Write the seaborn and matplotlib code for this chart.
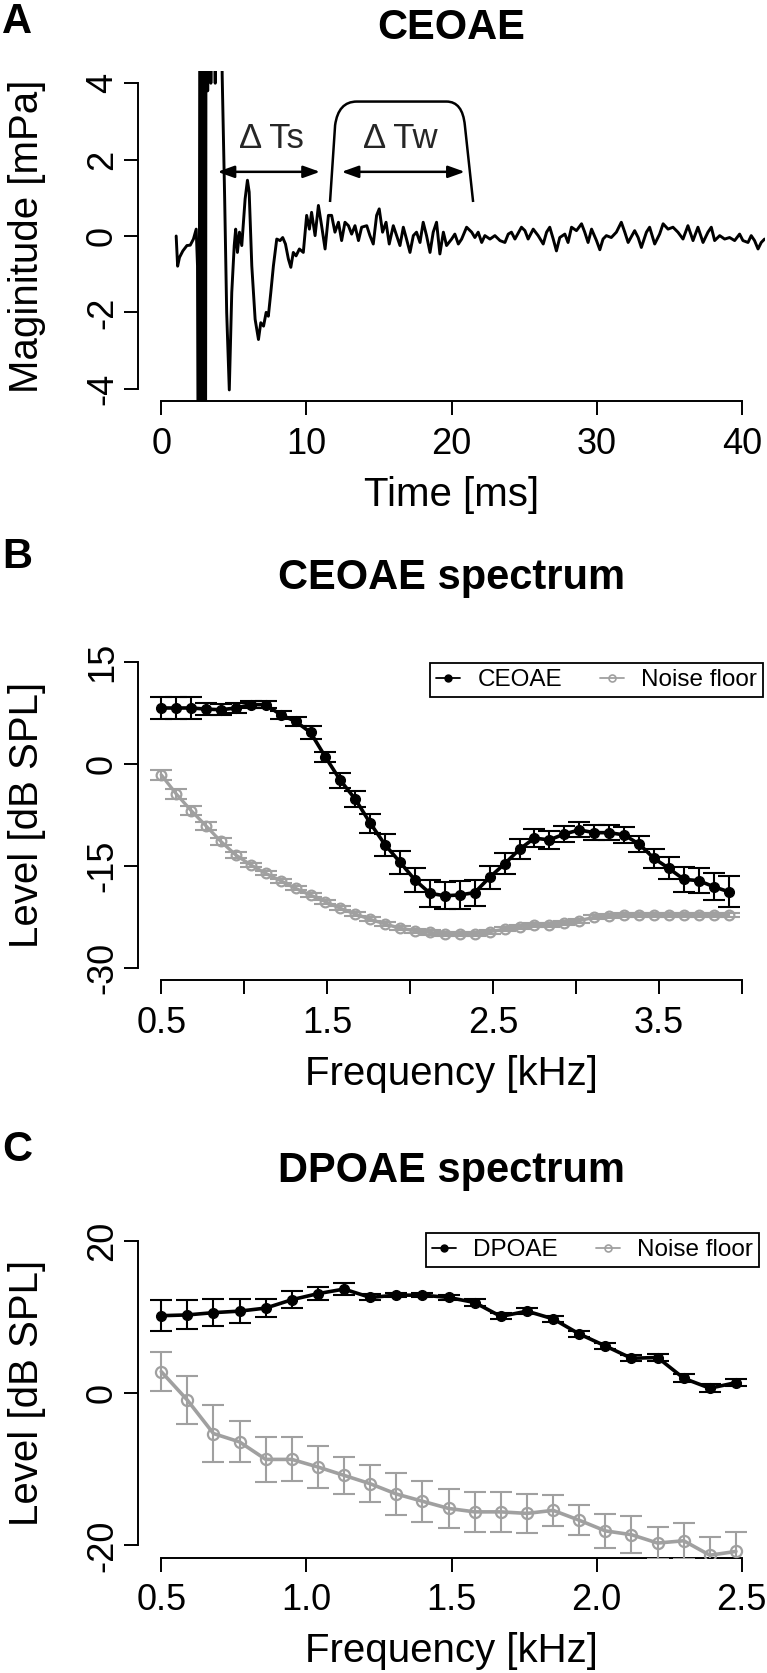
import numpy as np
import pandas as pd
import matplotlib
matplotlib.use("Agg")
import matplotlib.pyplot as plt
import seaborn as sns
from matplotlib.lines import Line2D
from matplotlib.path import Path
from matplotlib.patches import PathPatch

# ---------------- data ----------------
# Panel A: CEOAE time waveform (ms, mPa); values beyond +-4 are clipped by the axes
wave_time = [1.03, 1.13, 1.26, 1.49, 1.77, 2.00, 2.22, 2.41, 2.50, 2.59,
             2.68, 2.75, 2.82, 2.90, 2.97, 3.04, 3.10, 3.20, 3.30, 3.42, 3.55, 3.72, 3.85,
             4.10, 4.20, 4.37, 4.51, 4.69,
             4.86, 5.03, 5.13, 5.25, 5.39, 5.55, 5.78, 5.94, 6.06, 6.24, 6.47, 6.70, 6.86,
             7.05, 7.23, 7.38, 7.55, 7.73, 7.96, 8.19, 8.37, 8.56, 8.76, 8.93, 9.10, 9.29,
             9.52, 9.79, 10.02, 10.21, 10.36, 10.60, 10.83, 11.05, 11.29, 11.52, 11.74,
             11.97, 12.21, 12.43, 12.66, 12.90, 13.12, 13.35, 13.59, 13.81, 14.16, 14.38,
             14.61, 14.84, 15.02, 15.25, 15.49, 15.71, 15.99, 16.22, 16.45, 16.68, 16.90,
             17.14, 17.37, 17.59, 17.83, 18.05, 18.28, 18.52, 18.74, 18.97,
             19.20, 19.44, 19.66, 20.01, 20.23, 20.47, 20.70, 21.04, 21.39, 21.61, 21.84,
             22.08, 22.30, 22.65, 22.99, 23.34, 23.68, 23.91, 24.13, 24.37, 24.82, 25.06,
             25.28, 25.63, 25.97, 26.32, 26.55, 26.77, 27.01, 27.23, 27.46, 27.81, 28.03,
             28.27, 28.61, 28.96, 29.18, 29.41, 29.65, 29.99, 30.22, 30.44, 30.67, 31.01,
             31.36, 31.70, 31.94, 32.17, 32.62, 32.86, 33.08, 33.43, 33.65, 34.00, 34.34,
             34.58, 34.92, 35.26, 35.60, 35.95, 36.29, 36.64, 36.98, 37.33, 37.67, 37.90,
             38.13, 38.48, 38.82, 39.16, 39.51, 39.85, 40.08, 40.43, 40.65, 40.88, 41.12,
             41.34, 41.57]
wave_mpa = [0.00, -0.79, -0.56, -0.39, -0.25, -0.24, -0.08, 0.18, -0.78, -12.0,
            12.0, -12.0, 12.0, -12.0, 12.0, -12.0, 12.0, 3.8, 8.0, 4.0, 8.0, 4.0, 8.0,
            8.0, 4.2, 1.0, -2.0, -4.03,
            -1.48, -0.25, 0.18, -0.43, 0.10, -0.25, 0.97, 1.46, 1.15, -0.78, -2.18, -2.71, -2.27,
            -2.36, -2.00, -2.10, -1.48, -0.78, -0.08, -0.12, -0.04, -0.21, -0.60, -0.82, -0.43, -0.52,
            -0.34, -0.43, 0.54, 0.18, 0.62, 0.01, 0.80, 0.27, -0.34, 0.54, 0.54,
            0.10, 0.36, -0.12, 0.36, 0.27, 0.05, 0.27, -0.12, 0.23, 0.27, 0.01,
            -0.21, 0.54, 0.71, 0.10, 0.36, -0.21, 0.27, 0.01, -0.25, 0.23, -0.08,
            -0.43, 0.01, 0.10, -0.17, 0.36, 0.01, -0.43, 0.10, 0.36,
            -0.47, 0.10, -0.25, -0.08, 0.05, -0.21, -0.08, 0.23, 0.10, -0.04, 0.10,
            -0.17, 0.01, -0.08, 0.01, -0.12, -0.17, 0.05, 0.10, -0.08, 0.23, 0.14,
            -0.08, 0.18, 0.01, -0.21, 0.10, 0.23, -0.08, -0.39, -0.04, 0.05, -0.17,
            0.23, 0.14, 0.32, 0.10, -0.17, 0.18, -0.12, -0.36, -0.08, 0.01, -0.04,
            0.10, 0.36, 0.10, -0.17, 0.14, -0.04, -0.30, 0.10, 0.23, -0.21, 0.05,
            0.32, 0.18, 0.23, 0.10, -0.08, 0.27, -0.12, 0.23, -0.17, 0.10, 0.23,
            -0.12, 0.01, -0.08, -0.04, -0.12, 0.05, -0.12, -0.17, 0.01, -0.12, -0.34,
            -0.17, -0.08]

# Panel B: CEOAE spectrum (kHz, dB SPL)
ceoae_freq = [0.50, 0.59, 0.68, 0.77, 0.86, 0.95, 1.04, 1.13, 1.22, 1.31, 1.40, 1.49, 1.58,
              1.67, 1.76, 1.85, 1.94, 2.03, 2.12, 2.21, 2.30, 2.39, 2.48, 2.57, 2.66, 2.75,
              2.84, 2.93, 3.02, 3.11, 3.20, 3.29, 3.38, 3.47, 3.56, 3.65, 3.74, 3.83, 3.92]
ceoae_level = [8.26, 8.26, 8.26, 8.1, 8.0, 8.26, 8.75, 8.75, 7.27, 6.29, 4.66, 1.03, -2.4,
               -5.17, -8.7, -11.9, -14.46, -17.07, -19.03, -19.4, -19.27, -18.93, -16.67,
               -14.7, -12.55, -10.9, -11.17, -10.3, -9.7, -10.1, -10.1, -10.43, -11.76,
               -13.87, -15.35, -16.97, -17.17, -18.05, -18.8]
ceoae_err = [1.6, 1.6, 1.6, 0.9, 0.8, 0.7, 0.5, 0.5, 0.6, 0.7, 0.9, 0.74, 1.05, 1.15, 1.4,
             1.67, 1.67, 1.8, 2.0, 2.0, 2.0, 1.9, 1.67, 1.55, 1.5, 1.35, 1.3, 1.2, 1.1, 1.15,
             1.1, 1.15, 1.2, 1.4, 1.6, 1.8, 1.8, 2.0, 2.3]
ceoae_noise = [-1.58, -4.38, -6.84, -9.1, -11.4, -13.4, -14.85, -16.1, -17.17, -18.3, -19.3,
               -20.26, -21.25, -22.08, -22.87, -23.55, -24.19, -24.53, -24.8, -25.0, -25.0,
               -25.0, -24.68, -24.33, -23.94, -23.7, -23.7, -23.45, -23.06, -22.57, -22.37,
               -22.27, -22.2, -22.27, -22.2, -22.27, -22.27, -22.27, -22.27]
ceoae_noise_err = [0.74, 0.7, 0.7, 0.6, 0.5, 0.4, 0.3, 0.3, 0.3, 0.3, 0.3, 0.3, 0.3, 0.3,
                   0.3, 0.3, 0.3, 0.3, 0.3, 0.3, 0.3, 0.3, 0.3, 0.3, 0.3, 0.3, 0.3, 0.3,
                   0.3, 0.3, 0.3, 0.3, 0.3, 0.3, 0.3, 0.3, 0.3, 0.3, 0.3]

# Panel C: DPOAE spectrum (kHz, dB SPL)
dpoae_freq = [0.50, 0.59, 0.68, 0.77, 0.86, 0.95, 1.04, 1.13, 1.22, 1.31, 1.40, 1.49,
              1.58, 1.67, 1.76, 1.85, 1.94, 2.03, 2.12, 2.21, 2.30, 2.39, 2.48]
dpoae_level = [10.2, 10.3, 10.6, 10.8, 11.2, 12.3, 13.1, 13.7, 12.6, 12.9, 12.9, 12.6,
               11.93, 10.1, 10.8, 9.78, 7.8, 6.22, 4.6, 4.7, 1.97, 0.66, 1.4]
dpoae_err = [2.0, 1.9, 1.8, 1.6, 1.2, 1.1, 0.9, 0.8, 0.4, 0.3, 0.3, 0.3, 0.4, 0.4, 0.4,
             0.4, 0.4, 0.4, 0.4, 0.4, 0.5, 0.5, 0.5]
dpoae_noise = [2.85, -0.9, -5.3, -6.4, -8.7, -8.7, -9.7, -10.8, -11.9, -13.25, -14.2,
               -15.15, -15.6, -15.6, -15.8, -15.4, -16.7, -18.1, -18.6, -19.7, -19.4,
               -21.3, -20.8]
dpoae_noise_err = [2.6, 3.2, 3.7, 2.7, 3.0, 2.9, 2.7, 2.4, 2.4, 2.7, 2.7, 2.6, 2.6, 2.6,
                   2.6, 2.0, 2.0, 2.2, 2.4, 2.1, 2.4, 2.4, 2.5]

# ---------------- style ----------------
sns.set_theme(style="ticks")
plt.rcParams["font.family"] = ["Liberation Sans", "DejaVu Sans"]
plt.rcParams["axes.unicode_minus"] = False

W, H = 767, 1673
fig = plt.figure(figsize=(W / 100, H / 100), dpi=100)
fig.patch.set_facecolor("white")

GRAY = "#a0a0a0"
TICK_FS = 26
LABEL_FS = 29
TITLE_FS = 30
LETTER_FS = 30


def make_axes(top, bottom):
    return fig.add_axes([138 / W, 1 - bottom / H, 627 / W, (bottom - top) / H])


def style(ax, xb, yb, xticks, xlabels, yticks, ylabels, xlabel, ylabel):
    sns.despine(ax=ax)
    ax.grid(False)
    ax.set_facecolor("white")
    ax.spines["left"].set_bounds(*yb)
    ax.spines["bottom"].set_bounds(*xb)
    for s in ("left", "bottom"):
        ax.spines[s].set_linewidth(1.4)
        ax.spines[s].set_color("black")
    ax.set_xticks(xticks)
    ax.set_xticklabels(xlabels)
    ax.set_yticks(yticks)
    ax.set_yticklabels(ylabels, rotation=90, va="center")
    ax.tick_params(length=10, width=1.4, labelsize=TICK_FS,
                   colors="black", direction="out")
    ax.tick_params(axis="x", pad=8.5)
    ax.tick_params(axis="y", pad=3.0)
    ax.set_xlabel(xlabel, fontsize=LABEL_FS, color="black")
    ax.set_ylabel(ylabel, fontsize=LABEL_FS, color="black")
    h = ax.get_position().height * H
    ax.xaxis.set_label_coords(0.5, -75 / h)
    ax.yaxis.set_label_coords((46 - 138) / 627, 0.5)


# ---------------- Panel A ----------------
axA = make_axes(71, 401)
dfA = pd.DataFrame({"t": wave_time, "v": wave_mpa})
sns.lineplot(data=dfA, x="t", y="v", ax=axA, color="black", lw=2.1,
             sort=False, estimator=None)
axA.set_xlim(-1.6, 41.6)
axA.set_ylim(-4.32, 4.32)
style(axA, (0, 40), (-4, 4), [0, 10, 20, 30, 40], ["0", "10", "20", "30", "40"],
      [-4, -2, 0, 2, 4], ["-4", "-2", "0", "2", "4"], "Time [ms]", "Maginitude [mPa]")

arrow_kw = dict(arrowstyle="<|-|>,head_length=0.5,head_width=0.18", lw=1.8,
                color="black", mutation_scale=20, shrinkA=0, shrinkB=0)
axA.annotate("", xy=(3.88, 1.68), xytext=(10.94, 1.68), arrowprops=arrow_kw)
axA.annotate("", xy=(12.43, 1.68), xytext=(20.92, 1.68), arrowprops=arrow_kw)
axA.text(7.62, 2.55, "Δ Ts", fontsize=25, ha="center", va="center")
axA.text(16.45, 2.55, "Δ Tw", fontsize=25, ha="center", va="center")
win = Path([(11.63, 0.89), (11.98, 2.9), (12.2, 3.52), (13.47, 3.52), (19.66, 3.52),
            (20.76, 3.52), (20.92, 2.9), (21.49, 0.89)],
           [Path.MOVETO, Path.LINETO, Path.CURVE3, Path.CURVE3, Path.LINETO,
            Path.CURVE3, Path.CURVE3, Path.LINETO])
axA.add_patch(PathPatch(win, fill=False, lw=1.8, edgecolor="black"))

# ---------------- Panel B ----------------
axB = make_axes(650, 980)
axB.errorbar(ceoae_freq, ceoae_noise, yerr=ceoae_noise_err, fmt="none", ecolor=GRAY,
             elinewidth=1.5, capsize=8, capthick=1.5, zorder=2)
sns.lineplot(x=ceoae_freq, y=ceoae_noise, ax=axB, color=GRAY, lw=2.4, marker="o",
             markersize=7, markerfacecolor="none", markeredgecolor=GRAY,
             markeredgewidth=1.6, sort=False, estimator=None, zorder=3)
axB.errorbar(ceoae_freq, ceoae_level, yerr=ceoae_err, fmt="none", ecolor="black",
             elinewidth=1.5, capsize=8, capthick=1.5, zorder=4)
sns.lineplot(x=ceoae_freq, y=ceoae_level, ax=axB, color="black", lw=2.6, marker="o",
             markersize=7, markerfacecolor="black", markeredgecolor="black",
             markeredgewidth=1.0, sort=False, estimator=None, zorder=5)
axB.set_xlim(0.36, 4.14)
axB.set_ylim(-31.8, 16.8)
style(axB, (0.5, 4.0), (-30, 15), [0.5, 1.0, 1.5, 2.0, 2.5, 3.0, 3.5, 4.0],
      ["0.5", "", "1.5", "", "2.5", "", "3.5", ""],
      [-30, -15, 0, 15], ["-30", "-15", "0", "15"], "Frequency [kHz]", "Level [dB SPL]")


def add_legend(ax, labels, anchor):
    hs = [Line2D([0], [0], color="black", lw=1.3, marker="o", markersize=5,
                 markerfacecolor="black", markeredgecolor="black"),
          Line2D([0], [0], color=GRAY, lw=1.3, marker="o", markersize=5,
                 markerfacecolor="none", markeredgecolor=GRAY, markeredgewidth=1.2)]
    leg = ax.legend(hs, labels, loc="upper right", bbox_to_anchor=anchor, ncol=2,
                    frameon=True, fancybox=False, edgecolor="black", framealpha=1,
                    fontsize=17.5, handlelength=1.0, handletextpad=0.7,
                    columnspacing=1.55, borderpad=0.25, borderaxespad=0)
    leg.get_frame().set_linewidth(1.3)
    for t in leg.get_texts():
        t.set_color("black")


add_legend(axB, ["CEOAE", "Noise floor"], (0.9968, 0.9606))

# ---------------- Panel C ----------------
axC = make_axes(1229, 1557.5)
axC.errorbar(dpoae_freq, dpoae_level, yerr=dpoae_err, fmt="none", ecolor="black",
             elinewidth=1.5, capsize=8, capthick=1.5, zorder=2)
sns.lineplot(x=dpoae_freq, y=dpoae_level, ax=axC, color="black", lw=2.6, marker="o",
             markersize=7, markerfacecolor="black", markeredgecolor="black",
             markeredgewidth=1.0, sort=False, estimator=None, zorder=3)
axC.errorbar(dpoae_freq, dpoae_noise, yerr=dpoae_noise_err, fmt="none", ecolor=GRAY,
             elinewidth=1.5, capsize=8, capthick=1.5, zorder=4)
sns.lineplot(x=dpoae_freq, y=dpoae_noise, ax=axC, color=GRAY, lw=2.6, marker="o",
             markersize=8, markerfacecolor="none", markeredgecolor=GRAY,
             markeredgewidth=1.6, sort=False, estimator=None, zorder=5)
axC.set_xlim(0.42, 2.58)
axC.set_ylim(-21.6, 21.6)
style(axC, (0.5, 2.5), (-20, 20), [0.5, 1.0, 1.5, 2.0, 2.5],
      ["0.5", "1.0", "1.5", "2.0", "2.5"],
      [-20, 0, 20], ["-20", "0", "20"], "Frequency [kHz]", "Level [dB SPL]")
add_legend(axC, ["DPOAE", "Noise floor"], (0.9904, 0.9878))

# ---------------- titles & panel letters ----------------
cx = (138 + 765) / 2 / W
for txt, base in [("CEOAE", 39), ("CEOAE spectrum", 589), ("DPOAE spectrum", 1182)]:
    fig.text(cx, 1 - base / H, txt, ha="center", va="baseline",
             fontsize=TITLE_FS, fontweight="bold", color="black")
for txt, base in [("A", 33), ("B", 568), ("C", 1161)]:
    fig.text(2 / W, 1 - base / H, txt, ha="left", va="baseline",
             fontsize=LETTER_FS, fontweight="bold", color="black")

fig.savefig("out.png", dpi=100)
